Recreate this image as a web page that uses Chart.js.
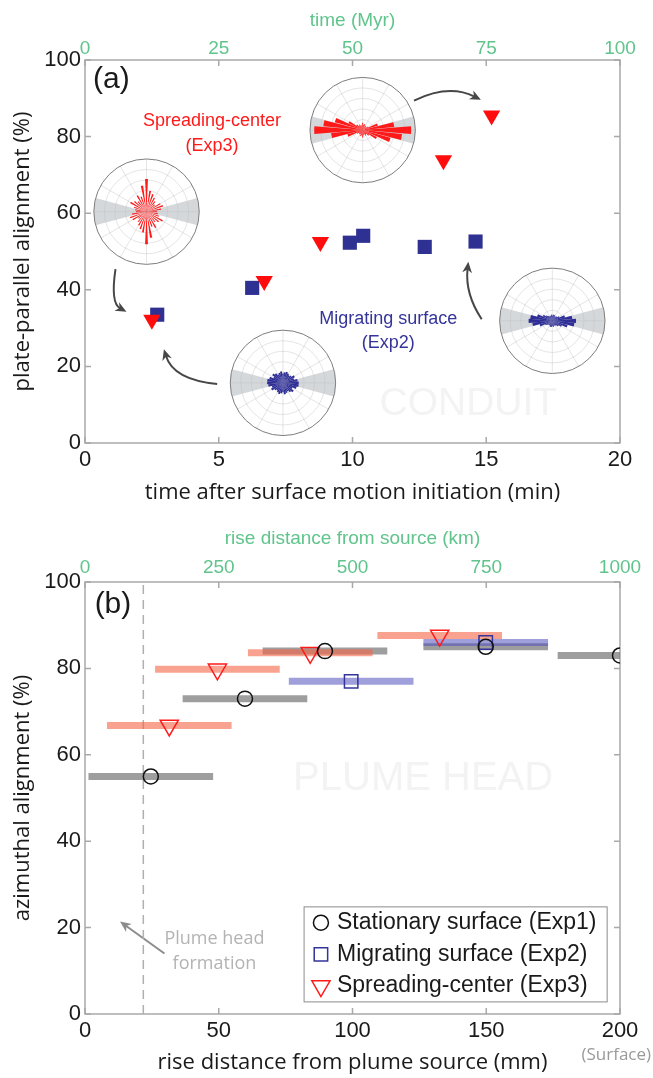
<!DOCTYPE html>
<html>
<head>
<meta charset="utf-8">
<title>Plate-parallel and azimuthal alignment</title>
<script src="https://cdn.jsdelivr.net/npm/chart.js@4.4.1/dist/chart.umd.min.js"></script>
<style>
  body { margin: 0; background: #fff; }
  #panelA { position: absolute; left: 0; top: 0; }
  #panelB { position: absolute; left: 0; top: 520px; }
</style>
</head>
<body>
<canvas id="panelA" width="653" height="520"></canvas>
<canvas id="panelB" width="653" height="558"></canvas>
<script>
// ---- panel (a): plate-parallel alignment vs time ----
var spreadTime  = [2.5, 6.7, 8.8, 13.4, 15.2];
var spreadAlign = [32.2, 42.3, 52.5, 73.8, 85.5];
var migrTime    = [2.7, 6.25, 9.9, 10.4, 12.7, 14.6];
var migrAlign   = [33.5, 40.5, 52.3, 54.1, 51.2, 52.6];

// rose insets: centre (time, alignment), petal length per 10 deg bin (fraction of radius)
var roseTime  = [2.3, 10.38, 7.4, 17.47];
var roseAlign = [60.4, 81.7, 15.7, 31.9];
var roseColor = ['#ff1a1a', '#ff1a1a', '#2e2e96', '#2e2e96'];
var roseSpreadEarly = [0.2, 0.28, 0.33, 0.3, 0.2, 0.25, 0.3, 0.35, 0.4, 0.62, 0.5, 0.3, 0.35, 0.25, 0.3, 0.35, 0.25, 0.22];
var roseSpreadLate  = [0.92, 0.6, 0.3, 0.12, 0.08, 0.1, 0.08, 0.12, 0.1, 0.14, 0.1, 0.08, 0.12, 0.1, 0.15, 0.3, 0.55, 0.75];
var roseMigrEarly   = [0.3, 0.28, 0.22, 0.25, 0.2, 0.18, 0.2, 0.22, 0.2, 0.18, 0.22, 0.2, 0.18, 0.22, 0.25, 0.2, 0.27, 0.3];
var roseMigrLate    = [0.45, 0.38, 0.25, 0.15, 0.12, 0.1, 0.1, 0.12, 0.12, 0.1, 0.12, 0.1, 0.1, 0.12, 0.15, 0.2, 0.3, 0.42];
var rosePetals = [roseSpreadEarly, roseSpreadLate, roseMigrEarly, roseMigrLate];
var rosePetalHalf = [2.5, 4.5, 5, 5]; // petal half width, degrees
var roseRadius = 1.97; // minutes along the x axis

// ---- panel (b): azimuthal alignment vs rise distance ----
var stationaryDist  = [24.6, 59.8, 89.7, 149.8, 200];
var stationaryAlign = [55, 73, 84, 85, 83];
var migratingDist   = [99.5, 149.8];
var migratingAlign  = [77, 86];
var spreadingDist   = [31.5, 49.5, 84.2, 132.6];
var spreadingAlign  = [66.8, 79.8, 83.6, 87.6];
var windowHalf = 23.3;        // half width of the sampling window (mm)
var headFormationDist = 21.8; // plume head formation (mm)

var green = 'rgb(96,196,140)';
var tickFont = {family: 'Liberation Sans, Arial, sans-serif', size: 22};
var greenFont = {family: 'Liberation Sans, Arial, sans-serif', size: 19};
var titleFont = {family: 'Open Sans, sans-serif', size: 22};

function pts(xs, ys) {
  return xs.map(function (x, i) { return {x: x, y: ys[i]}; });
}

function windowBars(xs, ys, color, order) {
  return xs.map(function (x, i) {
    return {
      data: [{x: x - windowHalf, y: ys[i]}, {x: x + windowHalf, y: ys[i]}],
      showLine: true, borderColor: color, borderWidth: 7, borderCapStyle: 'butt',
      pointRadius: 0, clip: 0, order: order
    };
  });
}

function fixSize(prop, v) {
  return function (s) { s[prop] = v; };
}

function plain(v) { return String(v); }

function xAxis(min, max, step, height, title, pad, titlePad) {
  return {
    type: 'linear', position: 'bottom', min: min, max: max,
    grid: {display: false, drawTicks: false}, border: {display: false},
    ticks: {stepSize: step, color: '#1a1a1a', font: tickFont, padding: pad, maxRotation: 0, autoSkip: false, callback: plain},
    title: {display: true, text: title, color: '#1a1a1a', font: titleFont, padding: {top: 0, bottom: titlePad}},
    afterFit: fixSize('height', height)
  };
}

function topAxis(max, step, height, title, pad, titlePad) {
  return {
    type: 'linear', position: 'top', min: 0, max: max,
    grid: {display: false, drawTicks: false}, border: {display: false},
    ticks: {stepSize: step, color: green, font: greenFont, padding: pad, maxRotation: 0, autoSkip: false, callback: plain},
    title: {display: true, text: title, color: green, font: greenFont, padding: {top: titlePad, bottom: 0}},
    afterFit: fixSize('height', height)
  };
}

function yAxis(title) {
  return {
    type: 'linear', min: 0, max: 100,
    grid: {display: false, drawTicks: false}, border: {display: false},
    ticks: {stepSize: 20, color: '#1a1a1a', font: tickFont, padding: 4, callback: plain},
    title: {display: true, text: title, color: '#1a1a1a', font: titleFont, padding: {top: 10, bottom: 0}},
    afterFit: fixSize('width', 85)
  };
}

// box and inward ticks, matlab style
var framePlugin = {
  id: 'frame',
  beforeDatasetsDraw: function (chart) {
    var a = chart.chartArea, ctx = chart.ctx, xs = chart.scales.x, ys = chart.scales.y;
    ctx.save();
    ctx.strokeStyle = '#a9a9a9';
    ctx.lineWidth = 1.5;
    ctx.beginPath();
    xs.ticks.forEach(function (t) {
      var p = xs.getPixelForValue(t.value);
      ctx.moveTo(p, a.bottom); ctx.lineTo(p, a.bottom - 6);
      ctx.moveTo(p, a.top); ctx.lineTo(p, a.top + 6);
    });
    ys.ticks.forEach(function (t) {
      var p = ys.getPixelForValue(t.value);
      ctx.moveTo(a.left, p); ctx.lineTo(a.left + 6, p);
      ctx.moveTo(a.right, p); ctx.lineTo(a.right - 6, p);
    });
    ctx.stroke();
    ctx.strokeRect(a.left, a.top, a.right - a.left, a.bottom - a.top);
    ctx.restore();
  }
};

function text(ctx, s, x, y, size, color, align, family) {
  ctx.font = size + 'px ' + (family || 'Liberation Sans, Arial, sans-serif');
  ctx.fillStyle = color;
  ctx.textAlign = align || 'center';
  ctx.textBaseline = 'middle';
  ctx.fillText(s, x, y);
}

function drawArrow(ctx, xs, ys, a, color, width) {
  var x0 = xs.getPixelForValue(a[0]), y0 = ys.getPixelForValue(a[1]);
  var xc = xs.getPixelForValue(a[2]), yc = ys.getPixelForValue(a[3]);
  var x1 = xs.getPixelForValue(a[4]), y1 = ys.getPixelForValue(a[5]);
  var ang = Math.atan2(y1 - yc, x1 - xc), hl = 12;
  ctx.strokeStyle = color; ctx.fillStyle = color; ctx.lineWidth = width;
  ctx.beginPath();
  ctx.moveTo(x0, y0);
  ctx.quadraticCurveTo(xc, yc, x1 - Math.cos(ang) * hl * 0.6, y1 - Math.sin(ang) * hl * 0.6);
  ctx.stroke();
  ctx.beginPath();
  ctx.moveTo(x1, y1);
  ctx.lineTo(x1 - hl * Math.cos(ang - 0.42), y1 - hl * Math.sin(ang - 0.42));
  ctx.lineTo(x1 - hl * 0.65 * Math.cos(ang), y1 - hl * 0.65 * Math.sin(ang));
  ctx.lineTo(x1 - hl * Math.cos(ang + 0.42), y1 - hl * Math.sin(ang + 0.42));
  ctx.closePath();
  ctx.fill();
}

function drawRose(ctx, xs, ys, k) {
  var cx = xs.getPixelForValue(roseTime[k]), cy = ys.getPixelForValue(roseAlign[k]);
  var R = xs.getPixelForValue(roseTime[k] + roseRadius) - cx;
  var deg = Math.PI / 180, i;
  var hw = rosePetalHalf[k];
  ctx.fillStyle = '#fff';
  ctx.beginPath(); ctx.arc(cx, cy, R, 0, 2 * Math.PI); ctx.fill();
  ctx.fillStyle = '#d5d8db';
  [0, 180].forEach(function (c) {
    ctx.beginPath(); ctx.moveTo(cx, cy);
    ctx.arc(cx, cy, R, (c - 15) * deg, (c + 15) * deg);
    ctx.closePath(); ctx.fill();
  });
  ctx.strokeStyle = 'rgba(190,190,190,0.4)'; ctx.lineWidth = 1;
  for (i = 1; i < 5; i++) {
    ctx.beginPath(); ctx.arc(cx, cy, R * i / 5, 0, 2 * Math.PI); ctx.stroke();
  }
  ctx.beginPath();
  for (i = 0; i < 180; i += 30) {
    ctx.moveTo(cx + R * Math.cos(i * deg), cy - R * Math.sin(i * deg));
    ctx.lineTo(cx - R * Math.cos(i * deg), cy + R * Math.sin(i * deg));
  }
  ctx.stroke();
  ctx.fillStyle = roseColor[k];
  rosePetals[k].forEach(function (v, j) {
    [0, 180].forEach(function (off) {
      var ang = -(j * 10 + off) * deg;
      ctx.beginPath(); ctx.moveTo(cx, cy);
      ctx.arc(cx, cy, v * R, ang - hw * deg, ang + hw * deg);
      ctx.closePath(); ctx.fill();
    });
  });
  ctx.strokeStyle = '#7d7d7d';
  ctx.beginPath(); ctx.arc(cx, cy, R, 0, 2 * Math.PI); ctx.stroke();
}

// curved arrows in panel (a): start, control, end (time, alignment)
var arrowsA = [
  [12.3, 89.4, 13.6, 93.8, 14.8, 89.6],
  [1.14, 45.4, 0.95, 36.5, 1.55, 34.3],
  [4.94, 15.4, 3.3, 16.5, 2.95, 24.5],
  [14.83, 32.3, 14.2, 39.0, 14.33, 47.3]
];

var notesA = {
  id: 'notesA',
  beforeDatasetsDraw: function (chart) {
    var ctx = chart.ctx, xs = chart.scales.x, ys = chart.scales.y;
    ctx.save();
    text(ctx, 'CONDUIT', xs.getPixelForValue(14.33), ys.getPixelForValue(10.2), 39, '#f3f3f3');
    roseTime.forEach(function (t, k) { drawRose(ctx, xs, ys, k); });
    arrowsA.forEach(function (a) { drawArrow(ctx, xs, ys, a, '#474747', 2); });
    text(ctx, '(a)', xs.getPixelForValue(0.3), ys.getPixelForValue(94.8), 30, '#1a1a1a', 'left');
    text(ctx, 'Spreading-center', xs.getPixelForValue(4.75), ys.getPixelForValue(84.0), 18, '#ff1a1a');
    text(ctx, '(Exp3)', xs.getPixelForValue(4.75), ys.getPixelForValue(77.6), 18, '#ff1a1a');
    text(ctx, 'Migrating surface', xs.getPixelForValue(11.34), ys.getPixelForValue(32.3), 18, '#34349a');
    text(ctx, '(Exp2)', xs.getPixelForValue(11.34), ys.getPixelForValue(26.2), 18, '#34349a');
    ctx.restore();
  }
};

var notesB = {
  id: 'notesB',
  beforeDatasetsDraw: function (chart) {
    var ctx = chart.ctx, xs = chart.scales.x, ys = chart.scales.y;
    ctx.save();
    text(ctx, 'PLUME HEAD', xs.getPixelForValue(126.4), ys.getPixelForValue(54.4), 40, '#f3f3f3');
    text(ctx, '(b)', xs.getPixelForValue(3.6), ys.getPixelForValue(94.8), 30, '#1a1a1a', 'left');
    text(ctx, 'Plume head', xs.getPixelForValue(48.4), ys.getPixelForValue(17.3), 18, '#b3b3b3', 'center', 'Open Sans, sans-serif');
    text(ctx, 'formation', xs.getPixelForValue(48.4), ys.getPixelForValue(11.5), 18, '#b3b3b3', 'center', 'Open Sans, sans-serif');
    drawArrow(ctx, xs, ys, [29.7, 14.0, 21.4, 17.7, 13.1, 21.4], '#8c8c8c', 2);
    ctx.restore();
  },
  afterDraw: function (chart) {
    var ctx = chart.ctx, xs = chart.scales.x, ys = chart.scales.y;
    ctx.save();
    text(ctx, '(Surface)', xs.getPixelForValue(198.6), ys.getPixelForValue(-9.6), 17, '#9a9a9a', 'center', 'Open Sans, sans-serif');
    ctx.restore();
  }
};

var boxLegend = {
  id: 'boxLegend',
  afterDatasetsDraw: function (chart) {
    var ctx = chart.ctx, xs = chart.scales.x, ys = chart.scales.y;
    var x0 = xs.getPixelForValue(81.9), x1 = xs.getPixelForValue(195.2);
    var y0 = ys.getPixelForValue(24.8), y1 = ys.getPixelForValue(2.8);
    var items = chart.data.datasets.filter(function (d) { return d.label; });
    var rowH = (y1 - y0) / items.length;
    ctx.save();
    ctx.fillStyle = '#fff';
    ctx.fillRect(x0, y0, x1 - x0, y1 - y0);
    ctx.strokeStyle = '#8c8c8c'; ctx.lineWidth = 1;
    ctx.strokeRect(x0, y0, x1 - x0, y1 - y0);
    items.forEach(function (d, i) {
      var cy = y0 + rowH * (i + 0.5);
      ctx.strokeStyle = d.borderColor;
      ctx.fillStyle = 'rgba(0,0,0,0)';
      ctx.lineWidth = d.borderWidth;
      Chart.helpers.drawPoint(ctx, {pointStyle: d.pointStyle, radius: d.pointRadius, rotation: d.rotation || 0, borderWidth: d.borderWidth},
        xs.getPixelForValue(88.2), cy);
      text(ctx, d.label, xs.getPixelForValue(94.2), cy, 23, '#1a1a1a', 'left');
    });
    ctx.restore();
  }
};

var common = {
  responsive: false, animation: false, devicePixelRatio: 1,
  plugins: {legend: {display: false}, tooltip: {enabled: false}}
};

new Chart(document.getElementById('panelA').getContext('2d'), {
  type: 'scatter',
  data: {
    datasets: [
      {label: 'Spreading-center (Exp3)', data: pts(spreadTime, spreadAlign), pointStyle: 'triangle', rotation: 180,
        pointRadius: 10, backgroundColor: '#ff0d0d', borderWidth: 0, order: 0},
      {label: 'Migrating surface (Exp2)', data: pts(migrTime, migrAlign), pointStyle: 'rect',
        pointRadius: 10, backgroundColor: '#2e3192', borderWidth: 0, order: 1}
    ]
  },
  options: Object.assign({}, common, {
    layout: {padding: {left: 0, right: 33, top: 0, bottom: 0}},
    scales: {
      x: xAxis(0, 20, 5, 77, 'time after surface motion initiation (min)', 4, 14),
      x2: topAxis(100, 25, 60, 'time (Myr)', 0, 9),
      y: yAxis('plate-parallel alignment (%)')
    }
  }),
  plugins: [framePlugin, notesA]
});

var barsB = []
  .concat(windowBars(stationaryDist, stationaryAlign, 'rgba(120,120,120,0.72)', 3))
  .concat(windowBars(spreadingDist, spreadingAlign, 'rgba(245,100,70,0.6)', 2))
  .concat(windowBars(migratingDist, migratingAlign, 'rgba(80,80,190,0.55)', 2));

new Chart(document.getElementById('panelB').getContext('2d'), {
  type: 'scatter',
  data: {
    datasets: [
      {label: 'Stationary surface (Exp1)', data: pts(stationaryDist, stationaryAlign), pointStyle: 'circle',
        pointRadius: 7.5, borderColor: '#111', backgroundColor: 'rgba(0,0,0,0)', borderWidth: 1.5, order: 0},
      {label: 'Migrating surface (Exp2)', data: pts(migratingDist, migratingAlign), pointStyle: 'rect',
        pointRadius: 9.5, borderColor: '#33339a', backgroundColor: 'rgba(0,0,0,0)', borderWidth: 1.5, order: 0},
      {label: 'Spreading-center (Exp3)', data: pts(spreadingDist, spreadingAlign), pointStyle: 'triangle', rotation: 180,
        pointRadius: 10.5, borderColor: '#ff1a1a', backgroundColor: 'rgba(0,0,0,0)', borderWidth: 1.5, order: 0},
      {data: [{x: headFormationDist, y: 0}, {x: headFormationDist, y: 100}], showLine: true, pointRadius: 0,
        borderColor: '#b0b0b0', borderWidth: 1.5, borderDash: [9, 6], order: 5}
    ].concat(barsB)
  },
  options: Object.assign({}, common, {
    layout: {padding: {left: 0, right: 33, top: 0, bottom: 0}},
    scales: {
      x: xAxis(0, 200, 50, 64, 'rise distance from plume source (mm)', 4, 2),
      x2: topAxis(1000, 250, 62, 'rise distance from source (km)', 3, 7),
      y: yAxis('azimuthal alignment (%)')
    }
  }),
  plugins: [framePlugin, notesB, boxLegend]
});
</script>
</body>
</html>
